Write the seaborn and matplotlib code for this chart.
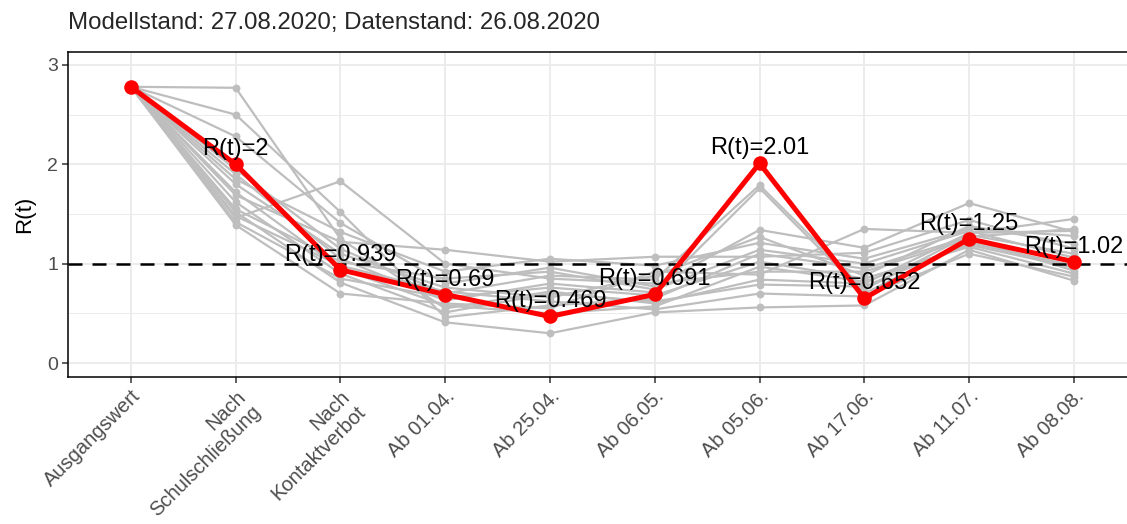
import matplotlib
matplotlib.use("Agg")
import matplotlib.pyplot as plt
import pandas as pd
import seaborn as sns

# Phases of the pandemic measures (x axis)
phases = ["Ausgangswert", "Nach\nSchulschließung", "Nach\nKontaktverbot",
          "Ab 01.04.", "Ab 25.04.", "Ab 06.05.", "Ab 05.06.",
          "Ab 17.06.", "Ab 11.07.", "Ab 08.08."]

# Estimated reproduction number for Germany as a whole
r_germany = [2.78, 2.0, 0.939, 0.69, 0.469, 0.691, 2.01, 0.652, 1.25, 1.02]

# Estimated reproduction numbers for the individual federal states
r_bw = [2.78, 2.77, 1.25, 0.55, 0.72, 0.60, 0.84, 0.80, 1.31, 1.45]
r_by = [2.78, 2.50, 1.52, 0.46, 0.58, 0.65, 1.10, 0.95, 1.27, 1.35]
r_be = [2.78, 2.28, 1.41, 0.80, 0.96, 0.77, 1.34, 1.16, 1.61, 1.32]
r_bb = [2.78, 1.95, 1.15, 0.70, 0.88, 0.84, 1.79, 0.74, 1.29, 1.10]
r_hb = [2.78, 1.90, 1.05, 0.63, 0.80, 0.71, 1.76, 0.70, 1.23, 1.03]
r_hh = [2.78, 1.85, 1.32, 0.92, 1.05, 0.98, 1.21, 1.05, 1.35, 1.28]
r_he = [2.78, 1.80, 1.10, 0.76, 0.66, 0.88, 1.27, 0.88, 1.38, 1.20]
r_mv = [2.78, 1.72, 0.95, 0.58, 0.50, 0.57, 0.97, 0.82, 1.19, 0.96]
r_ni = [2.78, 1.69, 1.22, 1.14, 1.02, 1.07, 1.07, 1.11, 1.44, 1.15]
r_nw = [2.78, 1.62, 0.90, 0.51, 0.70, 0.62, 0.79, 0.77, 1.21, 0.98]
r_rp = [2.78, 1.55, 1.02, 0.85, 0.92, 0.74, 1.14, 1.00, 1.33, 1.06]
r_sl = [2.78, 1.52, 0.81, 0.41, 0.30, 0.51, 0.56, 0.58, 1.14, 0.83]
r_sn = [2.78, 1.48, 0.98, 0.72, 0.62, 0.54, 0.70, 0.67, 1.10, 0.87]
r_st = [2.78, 1.46, 1.83, 1.00, 0.85, 0.80, 0.92, 0.92, 1.25, 0.93]
r_sh = [2.78, 1.42, 0.85, 0.66, 0.76, 0.68, 1.02, 0.85, 1.17, 0.90]
r_th = [2.78, 1.39, 0.70, 0.60, 0.55, 0.92, 0.89, 1.35, 1.31, 1.33]

title = "Modellstand: 27.08.2020; Datenstand: 26.08.2020"

laender = {"BW": r_bw, "BY": r_by, "BE": r_be, "BB": r_bb, "HB": r_hb,
           "HH": r_hh, "HE": r_he, "MV": r_mv, "NI": r_ni, "NW": r_nw,
           "RP": r_rp, "SL": r_sl, "SN": r_sn, "ST": r_st, "SH": r_sh,
           "TH": r_th}

rows = [(land, i, v) for land, vals in laender.items() for i, v in enumerate(vals)]
df_states = pd.DataFrame(rows, columns=["land", "pos", "r"])
df_de = pd.DataFrame({"pos": range(len(phases)), "r": r_germany})

sns.set_theme(style="white")
plt.rcParams["font.family"] = ["Liberation Sans", "DejaVu Sans"]

W, H = 1127, 524
fig = plt.figure(figsize=(W / 100, H / 100), dpi=100)
left, top, bottom = 68, 52, 377
step = 104.78
width_px = step * 10.2
ax = fig.add_axes([left / W, 1 - bottom / H, width_px / W, (bottom - top) / H])

grey = "#BEBEBE"
sns.lineplot(data=df_states, x="pos", y="r", units="land", estimator=None,
             color=grey, lw=1.6, legend=False, ax=ax, zorder=2)
sns.scatterplot(data=df_states, x="pos", y="r", color=grey, s=32,
                linewidth=0, legend=False, ax=ax, zorder=2)

ax.axhline(1, color="black", ls=(0, (5.6, 4)), lw=1.8, zorder=3)

sns.lineplot(data=df_de, x="pos", y="r", color="red", lw=3.6,
             legend=False, ax=ax, zorder=4)
sns.scatterplot(data=df_de, x="pos", y="r", color="red", s=110,
                linewidth=0, legend=False, ax=ax, zorder=5)

for i, v in enumerate(r_germany):
    if i == 0:
        continue
    ax.annotate(f"R(t)={v:.3g}", (i, v), xytext=(0, 15),
                textcoords="offset pixels", ha="center", va="center",
                fontsize=17, color="black", zorder=6)

ax.set_xlim(-0.6, 9.6)
ax.set_ylim(-0.14, 3.13)
ax.set_xticks(range(len(phases)))
ax.set_xticklabels(phases, rotation=45, ha="right", va="top",
                   rotation_mode="anchor", fontsize=14.5, color="#4D4D4D")
ax.set_yticks([0, 1, 2, 3])
ax.set_yticklabels(["0", "1", "2", "3"], fontsize=14, color="#4D4D4D")
ax.set_yticks([0.5, 1.5, 2.5], minor=True)
ax.tick_params(axis="both", which="major", length=4, width=1.1,
               color="#333333", direction="out", bottom=True, left=True, pad=3)
ax.tick_params(axis="y", which="minor", length=0)

ax.grid(True, which="major", color="#EBEBEB", lw=1.3, zorder=0)
ax.grid(True, which="minor", axis="y", color="#EBEBEB", lw=0.7, zorder=0)
ax.set_axisbelow(True)

for sp in ax.spines.values():
    sp.set_color("black")
    sp.set_linewidth(1.1)

ax.set_xlabel("")
ax.set_ylabel("R(t)", fontsize=16, color="black", labelpad=9)

fig.text(left / W, 1 - 23 / H, title, fontsize=17.3, ha="left", va="center")

fig.savefig("out.png", dpi=100)
